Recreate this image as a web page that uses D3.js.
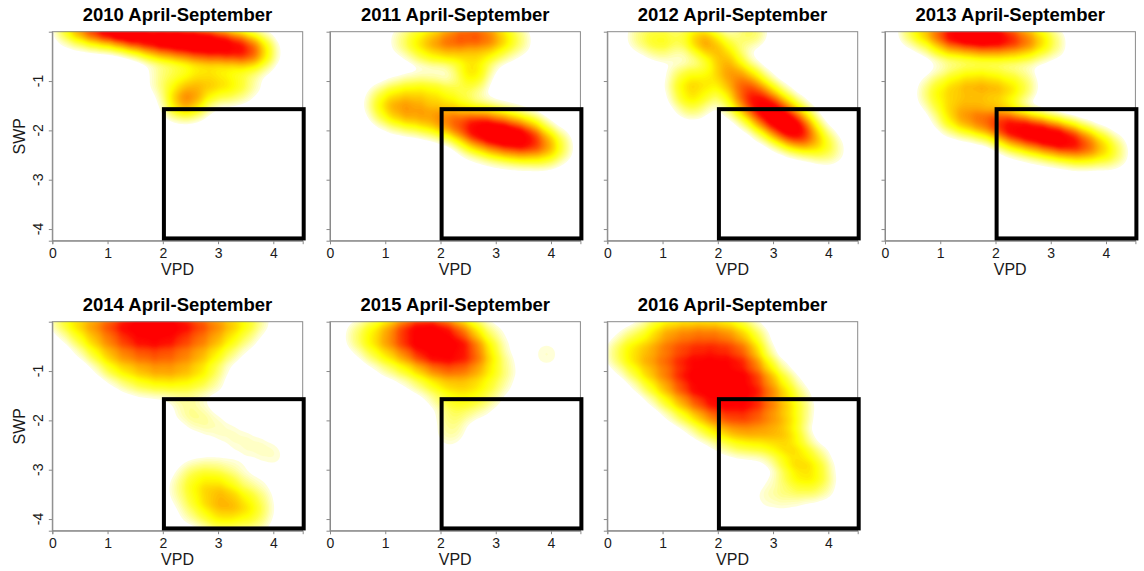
<!DOCTYPE html>
<html>
<head>
<meta charset="utf-8">
<script src="https://cdn.jsdelivr.net/npm/d3@7"></script>
<style>
  html, body { margin: 0; padding: 0; background: #fff; }
  svg { display: block; font-family: "Liberation Sans", Arial, Helvetica, sans-serif; }
</style>
</head>
<body>
<svg id="chart" width="1144" height="571"></svg>
<script>
// Seasonal (April-September) joint density of vapour pressure deficit (VPD)
// and soil water potential (SWP), one smoothed scatter per year.

const years = ["2010", "2011", "2012", "2013", "2014", "2015", "2016"];
const vpdTicks = [0, 1, 2, 3, 4];
const swpTicks = [-1, -2, -3, -4];
const vpdRange = [0, 4.532];
const swpRange = [-4.236, 0];
// drought window outlined on every panel: [VPD min, VPD max, SWP min, SWP max]
const droughtBox = [2.02, 4.55, -4.19, -1.57];

// observations as [VPD, SWP, weight]
const obs2010 = [
  [0.3, 0.08, 0.3], [0.55, 0.08, 0.55], [0.8, 0.06, 0.8], [1.05, 0.05, 1], [1.3, 0.04, 1],
  [1.5, -0.08, 1], [1.8, -0.1, 1], [2.1, -0.12, 1], [2.4, -0.15, 1], [2.7, -0.18, 1],
  [3.0, -0.22, 0.9], [3.3, -0.28, 0.75], [3.55, -0.35, 0.6], [3.8, -0.42, 0.4],
  [1.9, -0.35, 0.35], [2.3, -0.38, 0.45], [2.7, -0.4, 0.5], [3.1, -0.43, 0.5], [3.5, -0.48, 0.35],
  [1.95, -1.02, 0.1], [2.1, -0.95, 0.15], [2.4, -0.95, 0.22], [2.7, -0.95, 0.28], [3.0, -0.97, 0.28],
  [3.3, -1.0, 0.22], [3.6, -1.0, 0.12], [2.5, -1.18, 0.15], [2.8, -1.2, 0.2], [3.1, -1.2, 0.17],
  [3.4, -1.2, 0.1], [2.7, -0.68, 0.08],
  [2.3, -1.42, 0.55], [2.55, -1.42, 0.45]
];
const obs2011 = [
  [1.3, -0.2, 0.15], [1.6, -0.15, 0.3], [1.9, -0.12, 0.4], [2.2, -0.08, 0.6], [2.5, -0.05, 0.75],
  [2.8, -0.05, 0.7], [3.1, -0.1, 0.4], [3.4, -0.18, 0.2],
  [1.7, -0.42, 0.2], [2.0, -0.4, 0.3], [2.3, -0.4, 0.35], [2.7, -0.42, 0.3], [3.0, -0.4, 0.2],
  [2.6, -0.75, 0.25], [2.6, -0.95, 0.25], [2.45, -0.85, 0.12],
  [0.9, -1.4, 0.2], [1.2, -1.3, 0.3], [1.5, -1.25, 0.35], [1.8, -1.25, 0.35], [2.1, -1.3, 0.3],
  [2.4, -1.45, 0.25],
  [1.0, -1.6, 0.25], [1.25, -1.65, 0.4], [1.5, -1.68, 0.5], [1.8, -1.74, 0.55], [2.1, -1.82, 0.65],
  [2.4, -1.9, 0.8], [2.7, -1.98, 0.95], [3.0, -2.06, 1], [3.3, -2.13, 1], [3.6, -2.2, 0.9],
  [3.9, -2.28, 0.55], [4.15, -2.35, 0.2],
  [2.6, -2.25, 0.35], [3.0, -2.35, 0.45], [3.4, -2.42, 0.4], [3.8, -2.5, 0.2],
  [2.8, -1.72, 0.4], [3.2, -1.82, 0.4], [3.6, -1.92, 0.3]
];
const obs2012 = [
  [0.6, -0.1, 0.3], [0.9, -0.12, 0.35], [1.2, -0.1, 0.3], [1.0, -0.35, 0.2],
  [1.65, -0.15, 0.9], [1.9, -0.28, 0.7], [2.6, 0.0, 0.45], [2.1, -0.5, 0.35], [2.25, -0.3, 0.2],
  [1.35, -0.95, 0.35], [1.65, -0.9, 0.35], [1.95, -1.0, 0.3], [1.4, -1.25, 0.4], [1.7, -1.2, 0.4],
  [1.55, -1.5, 0.3],
  [2.1, -0.75, 0.45], [2.3, -0.95, 0.55], [2.5, -1.15, 0.7], [2.7, -1.35, 0.85], [2.9, -1.55, 1],
  [3.1, -1.72, 1], [3.3, -1.88, 1], [3.5, -2.03, 0.9], [3.7, -2.18, 0.65], [3.9, -2.32, 0.35],
  [4.1, -2.42, 0.15],
  [2.2, -1.3, 0.35], [2.5, -1.5, 0.75], [2.8, -1.75, 0.85], [3.1, -1.98, 0.8], [3.4, -2.15, 0.6],
  [2.3, -0.7, 0.3], [2.6, -0.95, 0.45], [2.9, -1.25, 0.45], [3.2, -1.5, 0.45], [3.5, -1.75, 0.4]
];
const obs2013 = [
  [0.5, 0.02, 0.2], [0.7, 0.02, 0.35], [1.0, 0.02, 0.7], [1.3, 0.0, 1], [1.6, -0.02, 1.1],
  [1.9, -0.05, 1.05], [2.2, -0.08, 0.8], [2.5, -0.12, 0.6], [2.8, -0.18, 0.4], [3.05, -0.25, 0.15],
  [1.0, -0.3, 0.25], [1.3, -0.3, 0.4], [1.7, -0.32, 0.5], [2.1, -0.35, 0.45], [2.5, -0.38, 0.3],
  [0.8, -1.25, 0.12], [1.0, -1.1, 0.2], [1.3, -1.0, 0.28], [1.6, -0.98, 0.32], [1.9, -1.0, 0.32],
  [2.2, -1.05, 0.26], [2.5, -1.05, 0.12], [2.5, -1.15, 0.14], [1.0, -1.4, 0.2], [1.3, -1.3, 0.28],
  [1.6, -1.3, 0.33], [1.9, -1.3, 0.33], [2.2, -1.35, 0.28],
  [1.2, -1.72, 0.4], [1.5, -1.76, 0.6], [1.8, -1.82, 0.7], [2.1, -1.88, 0.9], [2.4, -1.95, 1],
  [2.7, -2.02, 1.05], [3.0, -2.1, 1.05], [3.3, -2.18, 1], [3.6, -2.27, 0.75], [3.9, -2.36, 0.45],
  [4.15, -2.45, 0.2],
  [2.3, -2.2, 0.3], [2.7, -2.3, 0.35], [3.1, -2.38, 0.35], [3.5, -2.48, 0.25]
];
const obs2014 = [
  [0.2, 0.05, 0.3], [0.5, 0.05, 0.42], [0.8, 0.05, 0.55], [1.1, 0.05, 0.75], [1.4, 0.05, 0.95],
  [1.7, 0.05, 1.05], [2.0, 0.05, 1.05], [2.3, 0.05, 0.95], [2.6, 0.05, 0.75], [2.9, 0.05, 0.6],
  [3.2, 0.05, 0.45], [3.5, 0.05, 0.3], [3.75, 0.05, 0.12],
  [0.5, -0.3, 0.25], [0.8, -0.3, 0.4], [1.1, -0.3, 0.55], [1.4, -0.3, 0.75], [1.7, -0.3, 0.85],
  [2.0, -0.3, 0.85], [2.3, -0.3, 0.7], [2.6, -0.3, 0.55], [2.9, -0.3, 0.45], [3.2, -0.3, 0.3],
  [3.5, -0.3, 0.15],
  [0.8, -0.6, 0.25], [1.1, -0.6, 0.35], [1.4, -0.6, 0.45], [1.7, -0.6, 0.5], [2.0, -0.6, 0.5],
  [2.3, -0.6, 0.45], [2.6, -0.6, 0.38], [2.9, -0.6, 0.28], [3.2, -0.6, 0.12],
  [1.1, -0.9, 0.3], [1.4, -0.9, 0.35], [1.7, -0.9, 0.4], [2.0, -0.9, 0.45], [2.3, -0.9, 0.4],
  [2.6, -0.9, 0.3], [2.9, -0.9, 0.15],
  [1.4, -1.2, 0.15], [1.7, -1.2, 0.25], [2.0, -1.2, 0.3], [2.3, -1.2, 0.3], [2.6, -1.2, 0.25],
  [2.9, -1.2, 0.15],
  [2.4, -1.75, 0.17], [2.65, -1.95, 0.17], [2.9, -2.1, 0.1], [3.15, -2.25, 0.095], [3.4, -2.4, 0.095],
  [3.65, -2.52, 0.095], [3.9, -2.63, 0.09], [4.1, -2.75, 0.08],
  [2.6, -3.2, 0.2], [2.9, -3.25, 0.25], [3.2, -3.3, 0.2], [2.6, -3.5, 0.25], [2.9, -3.55, 0.4],
  [3.2, -3.6, 0.45], [3.5, -3.65, 0.3], [2.8, -3.85, 0.25], [3.1, -3.9, 0.35], [3.4, -3.95, 0.3],
  [3.7, -3.9, 0.15],
  [2.3, -3.4, 0.15], [2.5, -3.05, 0.12], [2.9, -3.0, 0.15], [3.3, -3.05, 0.12], [3.7, -3.35, 0.12],
  [3.8, -3.7, 0.12], [3.7, -4.1, 0.1], [2.5, -3.85, 0.15], [3.0, -4.15, 0.15]
];
const obs2015 = [
  [0.8, 0.0, 0.15], [1.1, 0.0, 0.35], [1.4, 0.0, 0.7], [1.7, 0.0, 0.9], [2.0, 0.0, 0.75],
  [2.3, 0.0, 0.4], [2.6, 0.0, 0.15],
  [0.5, -0.3, 0.25], [0.8, -0.3, 0.4], [1.1, -0.3, 0.6], [1.4, -0.3, 0.9], [1.7, -0.3, 1.0],
  [2.0, -0.3, 1.0], [2.3, -0.3, 0.85], [2.6, -0.3, 0.45], [3.0, -0.3, 0.15],
  [0.8, -0.6, 0.25], [1.1, -0.6, 0.4], [1.4, -0.6, 0.6], [1.7, -0.6, 0.95], [2.0, -0.6, 1.0],
  [2.3, -0.6, 0.95], [2.6, -0.6, 0.75], [2.9, -0.6, 0.3],
  [1.1, -0.9, 0.15], [1.4, -0.9, 0.3], [1.7, -0.9, 0.45], [2.0, -0.9, 0.7], [2.3, -0.9, 0.7],
  [2.6, -0.9, 0.55], [2.9, -0.9, 0.3], [3.2, -0.9, 0.12],
  [1.6, -1.2, 0.15], [1.9, -1.2, 0.3], [2.2, -1.2, 0.35], [2.5, -1.2, 0.35], [2.8, -1.2, 0.25],
  [3.1, -1.2, 0.15],
  [2.0, -1.5, 0.18], [2.3, -1.5, 0.3], [2.6, -1.5, 0.28], [2.9, -1.5, 0.15],
  [2.4, -1.75, 0.12], [2.7, -1.75, 0.1],
  [2.2, -1.85, 0.18], [2.2, -2.15, 0.18], [2.15, -2.4, 0.1],
  [3.92, -0.66, 0.2]
];
const obs2016 = [
  [0.9, -0.05, 0.3], [1.2, -0.05, 0.4], [1.5, -0.05, 0.45], [1.8, -0.05, 0.45], [2.1, -0.05, 0.4],
  [2.4, -0.05, 0.25],
  [0.5, -0.35, 0.3], [0.9, -0.35, 0.45], [1.2, -0.35, 0.55], [1.5, -0.35, 0.6], [1.8, -0.35, 0.65],
  [2.1, -0.35, 0.6], [2.4, -0.35, 0.5], [2.7, -0.35, 0.25],
  [0.2, -0.65, 0.3], [0.5, -0.65, 0.4], [0.8, -0.65, 0.5], [1.1, -0.65, 0.6], [1.4, -0.65, 0.75],
  [1.7, -0.65, 0.8], [2.0, -0.65, 0.8], [2.3, -0.65, 0.75], [2.6, -0.65, 0.55],
  [0.5, -0.95, 0.3], [0.8, -0.95, 0.45], [1.1, -0.95, 0.6], [1.4, -0.95, 0.85], [1.7, -0.95, 0.95],
  [2.0, -0.95, 0.95], [2.3, -0.95, 0.9], [2.6, -0.95, 0.7], [2.9, -0.95, 0.4],
  [0.8, -1.25, 0.35], [1.1, -1.25, 0.5], [1.4, -1.25, 0.8], [1.7, -1.25, 1.0], [2.0, -1.25, 1.0],
  [2.3, -1.25, 1.0], [2.6, -1.25, 0.85], [2.9, -1.25, 0.55], [3.2, -1.25, 0.3],
  [1.1, -1.55, 0.35], [1.4, -1.55, 0.55], [1.7, -1.55, 0.8], [2.0, -1.55, 1.0], [2.3, -1.55, 1.0],
  [2.6, -1.55, 0.9], [2.9, -1.55, 0.6], [3.2, -1.55, 0.4], [3.5, -1.55, 0.15],
  [1.4, -1.85, 0.3], [1.7, -1.85, 0.5], [2.0, -1.85, 0.7], [2.3, -1.85, 0.8], [2.6, -1.85, 0.75],
  [2.9, -1.85, 0.55], [3.2, -1.85, 0.4], [3.5, -1.85, 0.22],
  [1.8, -2.15, 0.3], [2.1, -2.15, 0.45], [2.4, -2.15, 0.55], [2.7, -2.15, 0.5], [3.0, -2.15, 0.45],
  [3.3, -2.15, 0.35],
  [2.2, -2.45, 0.2], [2.5, -2.45, 0.3], [2.8, -2.45, 0.35], [3.1, -2.45, 0.4], [3.4, -2.45, 0.35],
  [3.2, -2.75, 0.3], [3.5, -2.75, 0.4], [3.8, -2.75, 0.2],
  [3.3, -3.05, 0.15], [3.5, -3.05, 0.35], [3.8, -3.05, 0.35],
  [3.0, -3.35, 0.1], [3.3, -3.35, 0.15], [3.6, -3.35, 0.28], [3.9, -3.35, 0.2],
  [2.7, -3.6, 0.08], [3.0, -3.6, 0.1], [3.3, -3.6, 0.1]
];
const observations = [obs2010, obs2011, obs2012, obs2013, obs2014, obs2015, obs2016];

// heat ramp on the relative density (pale yellow -> yellow -> orange -> red)
const rampStops = [0.05, 0.1, 0.17, 0.25, 0.42, 0.6, 0.78, 0.86, 1];
const rampColors = ["#ffffd8", "#ffff90", "#ffff40", "#ffff00", "#ffb000", "#ff6000", "#ff1000", "#ff0000", "#ff0000"];
const heat = d3.scaleLinear().domain(rampStops).range(rampColors).interpolate(d3.interpolateRgb).clamp(true);
const bandwidthPx = 10;

// panel geometry
const plotW = 250.4, plotH = 209;
const colLeft = [52.3, 330, 607.3, 885];
const rowTop = [31.7, 321.7];
const axisGrey = "#8a8a8a", textCol = "#1a1a1a";

const svg = d3.select("#chart");
const x = d3.scaleLinear().domain(vpdRange).range([0, plotW]);
const y = d3.scaleLinear().domain(swpRange).range([plotH, 0]);
const path = d3.geoPath();

years.forEach((yr, i) => {
  const col = i % 4, row = Math.floor(i / 4);
  const g = svg.append("g").attr("transform", `translate(${colLeft[col]},${rowTop[row]})`);
  const clipId = "clip" + yr;
  g.append("clipPath").attr("id", clipId)
    .append("rect").attr("width", plotW).attr("height", plotH);

  // smoothed density of the observations
  const pts = observations[i];
  const dens = d3.contourDensity()
    .x(d => x(d[0])).y(d => y(d[1])).weight(d => d[2])
    .size([plotW, plotH]).cellSize(2).bandwidth(bandwidthPx);
  let maxD;
  if (typeof dens.contours === "function") {
    maxD = dens.contours(pts).max;
  } else {
    const probe = dens.thresholds(300)(pts);
    maxD = probe.length ? probe[probe.length - 1].value : 1;
  }
  const levels = d3.range(0, 72).map(k => 0.05 + 0.95 * k / 72);
  dens.thresholds(levels.map(t => maxD * t));
  const bands = dens(pts);

  g.append("g").attr("clip-path", `url(#${clipId})`)
    .selectAll("path").data(bands).join("path")
    .attr("d", path)
    .attr("fill", d => heat(d.value / maxD))
    .attr("stroke", "none");

  // frame
  g.append("rect").attr("width", plotW).attr("height", plotH)
    .attr("fill", "none").attr("stroke", axisGrey).attr("stroke-width", 1);

  // x axis
  const xa = g.append("g").attr("transform", `translate(0,${plotH})`)
    .call(d3.axisBottom(x).tickValues(vpdTicks).tickFormat(d3.format("d")).tickSize(3.5).tickPadding(3.5));
  xa.select(".domain").attr("stroke", axisGrey);
  xa.selectAll(".tick line").attr("stroke", axisGrey);
  xa.selectAll(".tick text").attr("fill", textCol).style("font-size", "14px")
    .style("font-family", "'Liberation Sans', Arial, sans-serif");

  // y axis ticks
  const ya = g.append("g").call(d3.axisLeft(y).tickValues(swpTicks).tickSize(3.5).tickFormat(""));
  ya.select(".domain").attr("stroke", axisGrey);
  ya.selectAll(".tick line").attr("stroke", axisGrey);

  if (col === 0) {
    g.selectAll(".ylab").data(swpTicks).join("text").attr("class", "ylab")
      .attr("transform", d => `translate(-9.6,${y(d)}) rotate(-90)`)
      .attr("text-anchor", "middle").attr("fill", textCol).style("font-size", "14px")
      .text(d => d3.format("d")(d).replace("\u2212", "-"));
    g.append("text")
      .attr("transform", `translate(-27.3,${plotH / 2}) rotate(-90)`)
      .attr("text-anchor", "middle").attr("fill", textCol).style("font-size", "16px")
      .text("SWP");
  }

  g.append("text").attr("x", plotW / 2).attr("y", plotH + 34.8)
    .attr("text-anchor", "middle").attr("fill", textCol).style("font-size", "16px")
    .text("VPD");

  g.append("text").attr("x", plotW / 2).attr("y", -11.2)
    .attr("text-anchor", "middle").attr("fill", "#000").style("font-size", "18.5px")
    .style("font-weight", "bold")
    .text(`${yr} April-September`);

  // drought window
  g.append("rect")
    .attr("x", x(droughtBox[0])).attr("y", y(droughtBox[3]))
    .attr("width", x(droughtBox[1]) - x(droughtBox[0]))
    .attr("height", y(droughtBox[2]) - y(droughtBox[3]))
    .attr("fill", "none").attr("stroke", "#000").attr("stroke-width", 4);
});
</script>
</body>
</html>
